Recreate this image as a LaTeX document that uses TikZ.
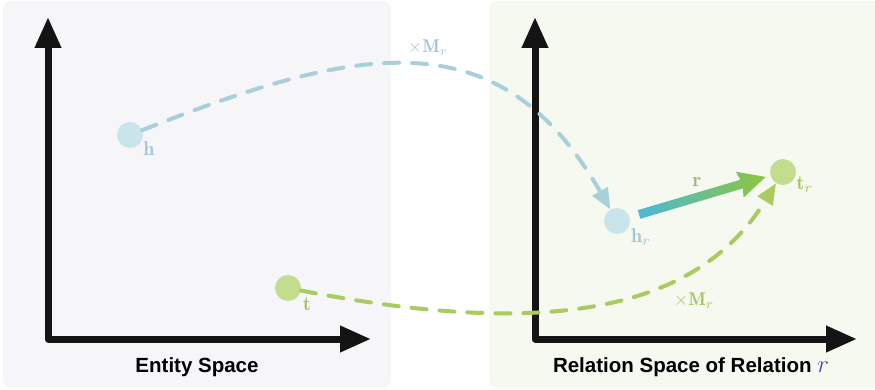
\documentclass[tikz,border=0pt]{standalone}
\usepackage{fontspec}
\newfontfamily\capfont{Liberation Sans}
\usetikzlibrary{arrows.meta}
\definecolor{panelL}{HTML}{F6F6F9}
\definecolor{panelR}{HTML}{F6F9F0}
\definecolor{hfill}{HTML}{C9E5EB}
\definecolor{hline}{HTML}{A9CFDA}
\definecolor{htext}{HTML}{9FC7D4}
\definecolor{tfill}{HTML}{C4DC8E}
\definecolor{tline}{HTML}{A9CB5F}
\definecolor{ttext}{HTML}{A3C663}
\definecolor{rstart}{HTML}{4CB8D7}
\definecolor{rend}{HTML}{8CC63E}
\definecolor{rtext}{HTML}{9BBA7B}
\definecolor{axisc}{HTML}{141414}
\definecolor{relc}{HTML}{5546AD}
\newcommand{\vecmath}[2][2]{\scalebox{#1}{$#2$}}
\begin{document}
\begin{tikzpicture}[x=1pt, y=1pt,
  panel/.style={rounded corners=8pt},
  axis/.style={line width=7pt, draw=axisc, line join=round,
    {Triangle[length=31pt,width=25pt]}-{Triangle[length=31pt,width=25pt]}},
  ent/.style={circle, minimum size=26pt, inner sep=0pt},
  lbl/.style={inner sep=0pt},
  proj/.style={line width=4pt, dash pattern=on 15pt off 13pt, line cap=round},
  caption/.style={font=\capfont\bfseries\fontsize{20.5}{24}\selectfont, inner sep=0pt}]
\clip (0,0) rectangle (875,389);
%% --- panels ---
\fill[panelL, panel] (3,1) rectangle (391,388);
\fill[panelR, panel] (489,1) rectangle (890,388);

%% --- axes ---
\draw[axis] (48,372) -- (48,50) -- (371,50);
\draw[axis] (535,372) -- (535,50) -- (857,50);
\node[caption] (ent) at (197,22) {Entity Space};
\node[caption] (rel) at (691,22) {Relation Space of Relation \textcolor{relc}{\vecmath[1.2]{r}}};

%% --- entities ---
\node[ent, fill=hfill] (h)  at (130,254) {};
\node[ent, fill=tfill] (t)  at (288,101) {};
\node[ent, fill=hfill] (hr) at (617,168) {};
\node[ent, fill=tfill] (tr) at (783,217) {};
\node[lbl, htext] (hl)  at (149,240) {\vecmath{\mathbf{h}}};
\node[lbl, ttext] (tl)  at (307,85)  {\vecmath{\mathbf{t}}};
\node[lbl, htext] (hrl) at (641,152) {\vecmath{\mathbf{h}_r}};
\node[lbl, ttext] (trl) at (805,204) {\vecmath{\mathbf{t}_r}};

%% --- projections ---
\draw[proj, hline, -{Triangle[length=21pt,width=17pt]}]
  (h) .. controls (360,345) and (500,372) .. (hr);
\draw[proj, tline, -{Triangle[length=21pt,width=17pt]}]
  (t) .. controls (545,51) and (696,76) .. (tr);
\node[lbl, htext] (mh) at (428,341) {\vecmath[1.85]{\times\mathbf{M}_r}};
\node[lbl, ttext] (mt) at (694,88) {\vecmath[1.85]{\times\mathbf{M}_r}};

%% --- relation vector ---
\begin{scope}[shift={(hr.center)}, rotate=16.5]
  \shade[left color=rstart, right color=rend]
    (23,-4.5) -- (130,-4.5) -- (128,-13.5) -- (155,0) -- (128,13.5)
    -- (130,4.5) -- (23,4.5) -- cycle;
\end{scope}
\node[lbl, rtext] (rl) at (697,207) {\vecmath{\mathbf{r}}};
\end{tikzpicture}
\end{document}
